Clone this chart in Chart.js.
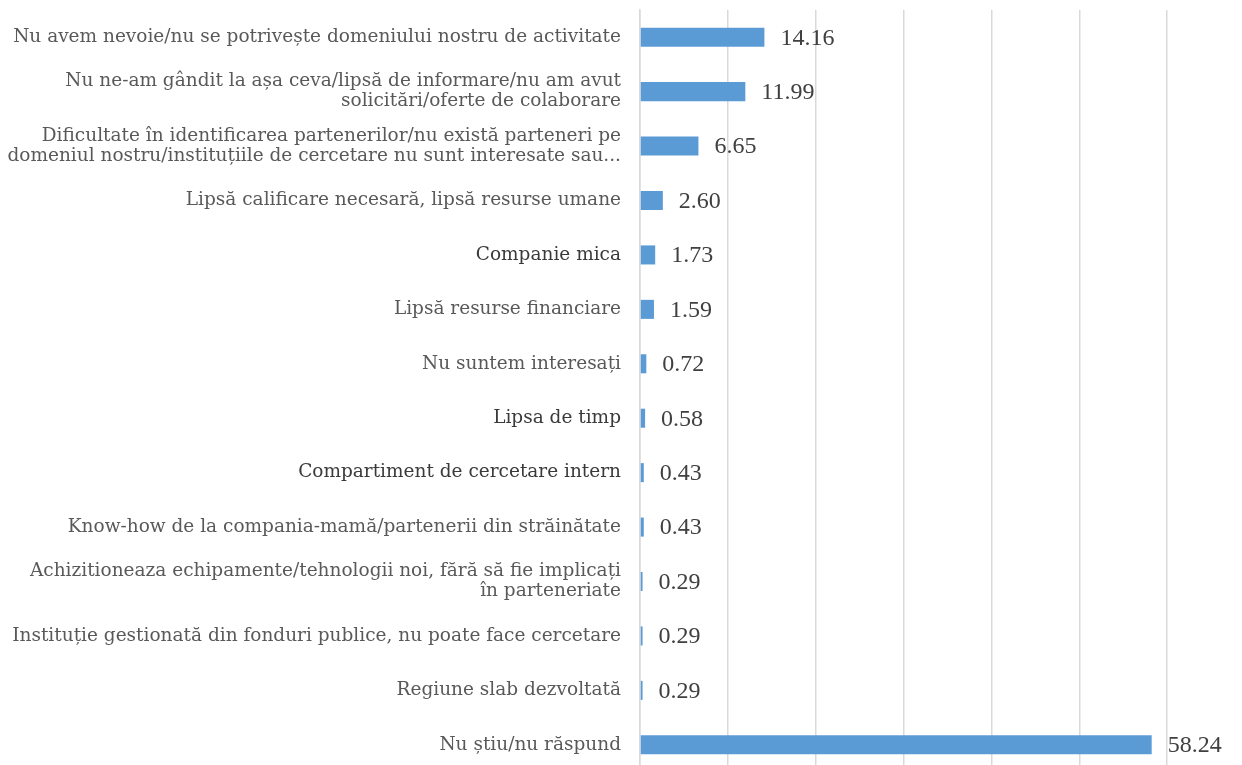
<!DOCTYPE html>
<html>
<head>
<meta charset="utf-8">
<script src="https://cdn.jsdelivr.net/npm/chart.js@4"></script>
<style>
  html, body { margin: 0; padding: 0; background: #fff; overflow: hidden; }
  #wrap { width: 1255px; height: 772px; position: relative; }
</style>
</head>
<body>
<div id="wrap"><canvas id="barChart"></canvas></div>
<script>
// Motive (categorii) si procente
const motive = [
    "Nu avem nevoie/nu se potrivește domeniului nostru de activitate",
    ["Nu ne-am gândit la așa ceva/lipsă de informare/nu am avut", "solicitări/oferte de colaborare"],
    ["Dificultate în identificarea partenerilor/nu există parteneri pe", "domeniul nostru/instituțiile de cercetare nu sunt interesate sau..."],
    "Lipsă calificare necesară, lipsă resurse umane",
    "Companie mica",
    "Lipsă resurse financiare",
    "Nu suntem interesați",
    "Lipsa de timp",
    "Compartiment de cercetare intern",
    "Know-how de la compania-mamă/partenerii din străinătate",
    ["Achizitioneaza echipamente/tehnologii noi, fără să fie implicați", "în parteneriate"],
    "Instituție gestionată din fonduri publice, nu poate face cercetare",
    "Regiune slab dezvoltată",
    "Nu știu/nu răspund"
];
const procente = [14.16, 11.99, 6.65, 2.60, 1.73, 1.59, 0.72, 0.58, 0.43, 0.43, 0.29, 0.29, 0.29, 58.24];
const etichetePlus = [4, 7, 8]; // etichete usor ingrosate in original

// Valorile scrise la capatul barelor
const valoriPlugin = {
    id: "valori",
    afterDatasetsDraw(chart) {
        const ctx = chart.ctx;
        const meta = chart.getDatasetMeta(0);
        ctx.save();
        ctx.font = "24px 'Liberation Serif'";
        ctx.fillStyle = "#404040";
        ctx.textAlign = "left";
        ctx.textBaseline = "middle";
        meta.data.forEach((bar, i) => {
            ctx.fillText(procente[i].toFixed(2), bar.x + 16, bar.y + 1);
        });
        ctx.restore();
    }
};

const ctx = document.getElementById("barChart").getContext("2d");
const barChart = new Chart(ctx, {
    type: "bar",
    data: {
        labels: motive,
        datasets: [{
            data: procente,
            backgroundColor: "#5B9BD5",
            borderWidth: 0,
            categoryPercentage: 1,
            barPercentage: 0.35
        }]
    },
    options: {
        indexAxis: "y",
        responsive: true,
        maintainAspectRatio: false,
        animation: false,
        layout: { padding: { top: 10, left: 0, right: 0, bottom: 0 } },
        plugins: {
            legend: { display: false },
            tooltip: { enabled: false }
        },
        scales: {
            x: {
                min: 0,
                max: 70,
                ticks: { display: false, stepSize: 10, padding: 0 },
                grid: { color: "#D9D9D9", lineWidth: 1.5, drawTicks: false },
                border: { display: false },
                afterFit(scale) {
                    scale.height = 0;
                    scale.paddingLeft = 0;
                    scale.paddingRight = 0;
                }
            },
            y: {
                grid: { display: false, drawTicks: false },
                border: { display: true, color: "#D9D9D9", width: 1.5 },
                ticks: {
                    padding: 19,
                    autoSkip: false,
                    color: (c) => etichetePlus.includes(c.index) ? "#3a3a3a" : "#595959",
                    font: { family: "'DejaVu Serif'", size: 18.5, lineHeight: 1.08 }
                },
                afterFit(scale) {
                    scale.width = 640;
                    scale.paddingTop = 0;
                    scale.paddingBottom = 0;
                }
            }
        }
    },
    plugins: [valoriPlugin]
});
</script>
</body>
</html>
